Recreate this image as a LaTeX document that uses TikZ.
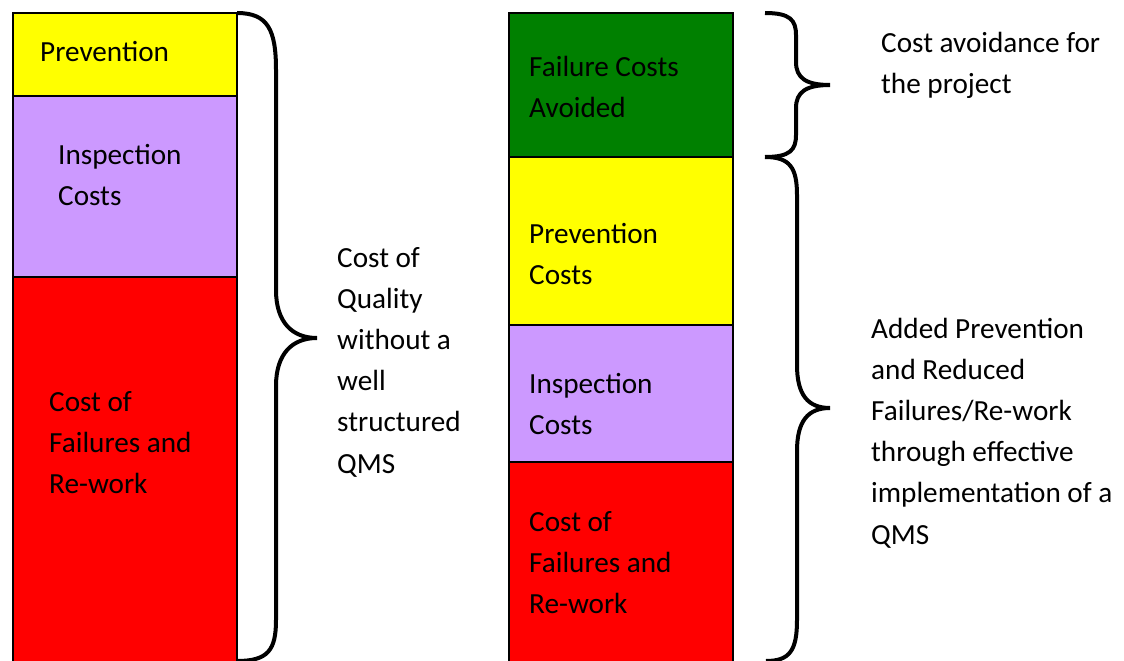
\documentclass[tikz,border=0pt]{standalone}
\usepackage{fontspec}
\setmainfont{Carlito}
\definecolor{cyel}{HTML}{FFFF00}
\definecolor{cpur}{HTML}{CC99FF}
\definecolor{cred}{HTML}{FF0000}
\definecolor{cgrn}{HTML}{008000}
\begin{document}
\begin{tikzpicture}[x=1pt,y=-1pt,
  blk/.style={draw=black,line width=1.3pt},
  brace/.style={draw=black,line width=4pt,line cap=butt},
  lbl/.style={anchor=base west,inner sep=0pt,align=left,font=\fontsize{29.2}{41.2}\selectfont}]
\useasboundingbox (0,0) rectangle (1124,661);
% left column
\draw[blk,fill=cyel] (13,13) rectangle (237,96);
\draw[blk,fill=cpur] (13,96) rectangle (237,277);
\draw[blk,fill=cred] (13,277) rectangle (237,664);
% right column
\draw[blk,fill=cgrn] (509,13) rectangle (733,157);
\draw[blk,fill=cyel] (509,157) rectangle (733,325);
\draw[blk,fill=cpur] (509,325) rectangle (733,462);
\draw[blk,fill=cred] (509,462) rectangle (733,664);
% braces
\draw[brace] (237,13) .. controls (268,13) and (276,30) .. (276,70)
  -- (276,290) .. controls (276,322) and (292,338) .. (317,338)
  .. controls (292,338) and (276,354) .. (276,386)
  -- (276,620) .. controls (276,650) and (268,661) .. (237,661);
\draw[brace] (765,13) .. controls (790,13) and (796,20) .. (796,35)
  -- (796,62) .. controls (796,78) and (806,85) .. (830,85)
  .. controls (806,85) and (796,92) .. (796,108)
  -- (796,135) .. controls (796,150) and (790,157) .. (765,157);
\draw[brace] (765,157) .. controls (790,157) and (797,168) .. (797,195)
  -- (797,365) .. controls (797,395) and (808,408) .. (830,408)
  .. controls (808,408) and (797,421) .. (797,451)
  -- (797,620) .. controls (797,650) and (790,661) .. (766,661);
% labels (anchor = baseline of last line)
\node[lbl] (t1) at (40,62) {Prevention};
\node[lbl] (t2) at (58,205.2) {Inspection\\Costs};
\node[lbl] (t3) at (49,493.4) {Cost of\\Failures and\\Re-work};
\node[lbl] (t4) at (337,473) {Cost of\\Quality\\without a\\well\\structured\\QMS};
\node[lbl] (t5) at (529,117.2) {Failure Costs\\Avoided};
\node[lbl] (t6) at (529,284.2) {Prevention\\Costs};
\node[lbl] (t7) at (529,434.2) {Inspection\\Costs};
\node[lbl] (t8) at (529,613.4) {Cost of\\Failures and\\Re-work};
\node[lbl] (t9) at (881,93.2) {Cost avoidance for\\the project};
\node[lbl] (t10) at (871,544) {Added Prevention\\and Reduced\\Failures/Re-work\\through effective\\implementation of a\\QMS};
\end{tikzpicture}
\end{document}
